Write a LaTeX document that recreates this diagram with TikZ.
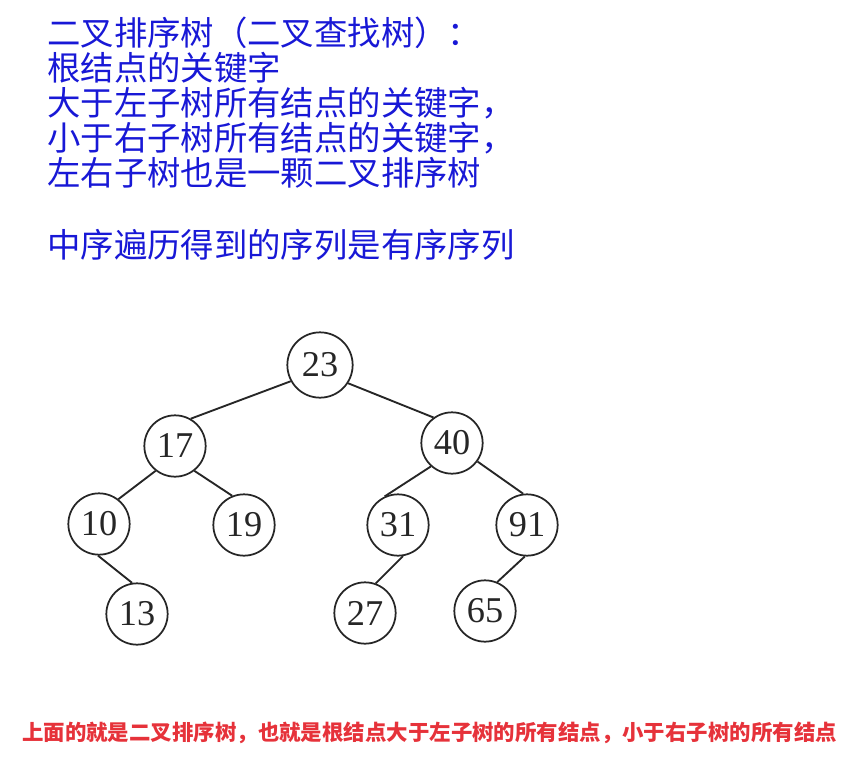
\documentclass[tikz,border=0pt]{standalone}
\usepackage{fontspec}
\setmainfont{Liberation Serif}
\newfontfamily\cjk{Noto Sans CJK SC}
\usetikzlibrary{positioning}
\definecolor{NoteBlue}{RGB}{24,24,214}
\definecolor{NoteRed}{RGB}{230,50,58}
\definecolor{Ink}{HTML}{262626}

\begin{document}
\begin{tikzpicture}[x=0.03cm,y=-0.03cm,
    key/.style={draw=Ink,circle,line width=1.5pt,minimum size=1.84cm,inner sep=0pt,
                text=Ink,font=\fontsize{31}{31}\selectfont},
    link/.style={Ink,line width=1.6pt},
    note/.style={anchor=west,inner sep=0pt,text=NoteBlue,font=\cjk\fontsize{28.5}{30}\selectfont}]
    \useasboundingbox (0,0) rectangle (841,756);

    % the text block
    \foreach \y/\txt in {33/二叉排序树（二叉查找树）：,68/根结点的关键字,103/大于左子树所有结点的关键字，,
                         138/小于右子树所有结点的关键字，,173/左右子树也是一颗二叉排序树,245/中序遍历得到的序列是有序序列} {
      \node[note] at (47,\y) {\txt};
    }

    % the tree
    \node[key,minimum size=1.96cm] (k23) at (320,365) {23};
    \node[key] (k17) at (175,446) {17};
    \node[key] (k40) at (452,443) {40};
    \node[key] (k10) at (99,524) {10};
    \node[key] (k19) at (244,525) {19};
    \node[key] (k31) at (398,525) {31};
    \node[key] (k91) at (527,525) {91};
    \node[key] (k13) at (137,614) {13};
    \node[key] (k27) at (365,613) {27};
    \node[key] (k65) at (485,611) {65};

    \foreach \a/\pa/\b/\pb in {k23/209/k17/60,k23/-33/k40/126,k17/232/k10/52,k17/-52/k19/112,k10/268/k13/99,
                               k40/228/k31/115,k40/-36/k91/97,k31/279/k27/70,k91/266/k65/67} {
      \draw[link] (\a.\pa) -- (\b.\pb);
    }

    \node[anchor=west,inner sep=0pt,text=NoteRed,font=\cjk\bfseries\fontsize{18.3}{20}\selectfont]
      (summary) at (22,733) {上面的就是二叉排序树，也就是根结点大于左子树的所有结点，小于右子树的所有结点};
  \end{tikzpicture}
\end{document}
